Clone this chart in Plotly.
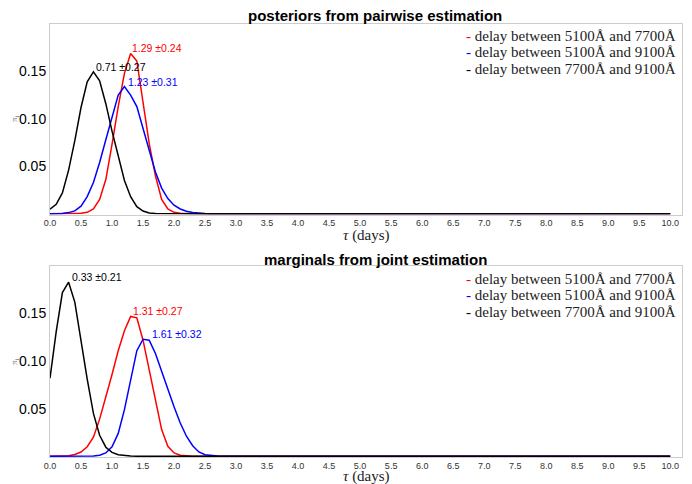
import plotly.graph_objects as go

# grid of delays (days)
tau = [round(i * 0.1, 1) for i in range(101)]

labels = ["delay between 5100Å and 7700Å",
          "delay between 5100Å and 9100Å",
          "delay between 7700Å and 9100Å"]
colors = ["#ff0000", "#0000ff", "#000000"]

# pairwise posteriors (values at tau = 0.0, 0.1, ... ; zero afterwards)
pair_red = [0, 0, 0, 0.0001, 0.0002, 0.0005, 0.0015, 0.005, 0.015, 0.036,
            0.073, 0.113, 0.148, 0.169, 0.161, 0.116, 0.074, 0.040, 0.015, 0.005,
            0.0015, 0.0004, 0.0001]
pair_blue = [0, 0.0001, 0.0003, 0.0012, 0.003, 0.008, 0.018, 0.033, 0.054, 0.078,
             0.101, 0.125, 0.134, 0.125, 0.113, 0.091, 0.067, 0.044, 0.027, 0.016,
             0.009, 0.005, 0.0026, 0.0013, 0.0006, 0.0002, 0.0001]
pair_black = [0.0047, 0.010, 0.022, 0.046, 0.077, 0.112, 0.139, 0.1495, 0.140, 0.116,
              0.087, 0.060, 0.035, 0.018, 0.0075, 0.0028, 0.0009, 0.0003, 0.0001]

# joint marginals
joint_red = [0, 0.0001, 0.0002, 0.0006, 0.0018, 0.0044, 0.010, 0.020, 0.039, 0.062,
             0.086, 0.111, 0.132, 0.147, 0.1455, 0.122, 0.091, 0.059, 0.028, 0.0105,
             0.0035, 0.001, 0.0003, 0.0001]
joint_blue = [0, 0, 0, 0, 0, 0, 0.0001, 0.0003, 0.001, 0.0035,
              0.010, 0.024, 0.049, 0.080, 0.111, 0.123, 0.122, 0.108, 0.089, 0.070,
              0.052, 0.035, 0.021, 0.011, 0.0045, 0.0016, 0.0005, 0.0002, 0.0001]
joint_black = [0.082, 0.131, 0.172, 0.183, 0.162, 0.121, 0.081, 0.045, 0.022, 0.0095,
               0.004, 0.0015, 0.0005, 0.0002, 0.0001]

pair_means = [1.29, 1.23, 0.71]
pair_sds = [0.24, 0.31, 0.27]
joint_means = [1.31, 1.61, 0.33]
joint_sds = [0.27, 0.32, 0.21]

titles = ["posteriors from pairwise estimation", "marginals from joint estimation"]
xticks = [i * 0.5 for i in range(21)]
xticktext = ["%.1f" % v for v in xticks]
yticks = [0.05, 0.10, 0.15]
yticktext = ["0.05", "0.10", "0.15"]


def pad(v):
    return list(v) + [0.0] * (len(tau) - len(v))


panels = [
    ([pair_red, pair_blue, pair_black], pair_means, pair_sds, "x", "y"),
    ([joint_red, joint_blue, joint_black], joint_means, joint_sds, "x2", "y2"),
]

fig = go.Figure()
annotations = []
for series, means, sds, xa, ya in panels:
    for vals, c, name, m, s in zip(series, colors, labels, means, sds):
        fig.add_trace(go.Scatter(x=tau, y=pad(vals), mode="lines", name=name,
                                 line=dict(color=c, width=1.5), xaxis=xa, yaxis=ya,
                                 showlegend=False))
        annotations.append(dict(x=m, y=max(vals), xref=xa, yref=ya,
                                text="%.2f ±%.2f" % (m, s), showarrow=False,
                                xanchor="left", yanchor="bottom", yshift=-3,
                                font=dict(family="Arial", size=10.5, color=c)))

# the page body has an 8px margin: the figure is sized to fill the window after it
OFF = 8
WIN_W, WIN_H = 692, 484
W, H = WIN_W - OFF, WIN_H - OFF
plot_l, plot_r, plot_t, plot_b = 50, 682, 24, 457   # window pixels
ml, mr, mt, mb = plot_l - OFF, WIN_W - plot_r, plot_t - OFF, WIN_H - plot_b
ph = plot_b - plot_t
pw = plot_r - plot_l
top_dom = [(plot_b - 214.5) / ph, 1.0]
bot_dom = [0.0, (plot_b - 266) / ph]


def py(ypix):
    return (plot_b - ypix) / ph


def px(xpix):
    return (xpix - plot_l) / pw


axis_common = dict(showline=True, mirror=True, linecolor="#cccccc", linewidth=1,
                   showgrid=False, zeroline=False, ticks="", automargin=False)
xcommon = dict(axis_common, range=[0, 10.19], tickvals=xticks, ticktext=xticktext,
               tickfont=dict(family="Liberation Sans Narrow, Arial", size=9, color="#333333"))
ycommon = dict(axis_common, range=[-0.0008, 0.2], tickvals=yticks, ticktext=yticktext,
               tickfont=dict(family="Arial", size=14, color="#000000"))

fig.update_layout(
    width=W, height=H,
    margin=dict(l=ml, r=mr, t=mt, b=mb, autoexpand=False),
    paper_bgcolor="white", plot_bgcolor="white",
    xaxis=dict(xcommon, domain=[0, 1], anchor="y"),
    yaxis=dict(ycommon, domain=top_dom, anchor="x"),
    xaxis2=dict(xcommon, domain=[0, 1], anchor="y2"),
    yaxis2=dict(ycommon, domain=bot_dom, anchor="x2"),
)

# titles, axis titles
for t, yp, xt_y, yt_y in zip(titles, [15.5, 259], [235, 476], [119, 362]):
    annotations.append(dict(x=px(375), y=py(yp), xref="paper", yref="paper", text="<b>%s</b>" % t,
                            showarrow=False, xanchor="center", yanchor="middle",
                            font=dict(family="Arial", size=15, color="#000000")))
    annotations.append(dict(x=0.5, y=py(xt_y), xref="paper", yref="paper",
                            text="<i>τ</i> (days)", showarrow=False,
                            xanchor="center", yanchor="middle",
                            font=dict(family="Liberation Serif", size=15, color="#222222")))
    annotations.append(dict(x=px(14), y=py(yt_y), xref="paper", yref="paper",
                            text="π<sub>i</sub>", showarrow=False, textangle=-90,
                            xanchor="center", yanchor="middle",
                            font=dict(family="Liberation Serif", size=9, color="#777777")))

# legend entries (short coloured dash + label)
for rows in ([36, 52, 69], [279, 295, 312]):
    for yp, c, name in zip(rows, colors, labels):
        annotations.append(dict(x=px(678), y=py(yp), xref="paper", yref="paper",
                                text="<span style='color:%s'>-</span> %s" % (c, name),
                                showarrow=False, xanchor="right", yanchor="middle",
                                font=dict(family="Liberation Serif", size=15, color="#222222")))

fig.update_layout(annotations=annotations)
fig.write_html("out.html")
